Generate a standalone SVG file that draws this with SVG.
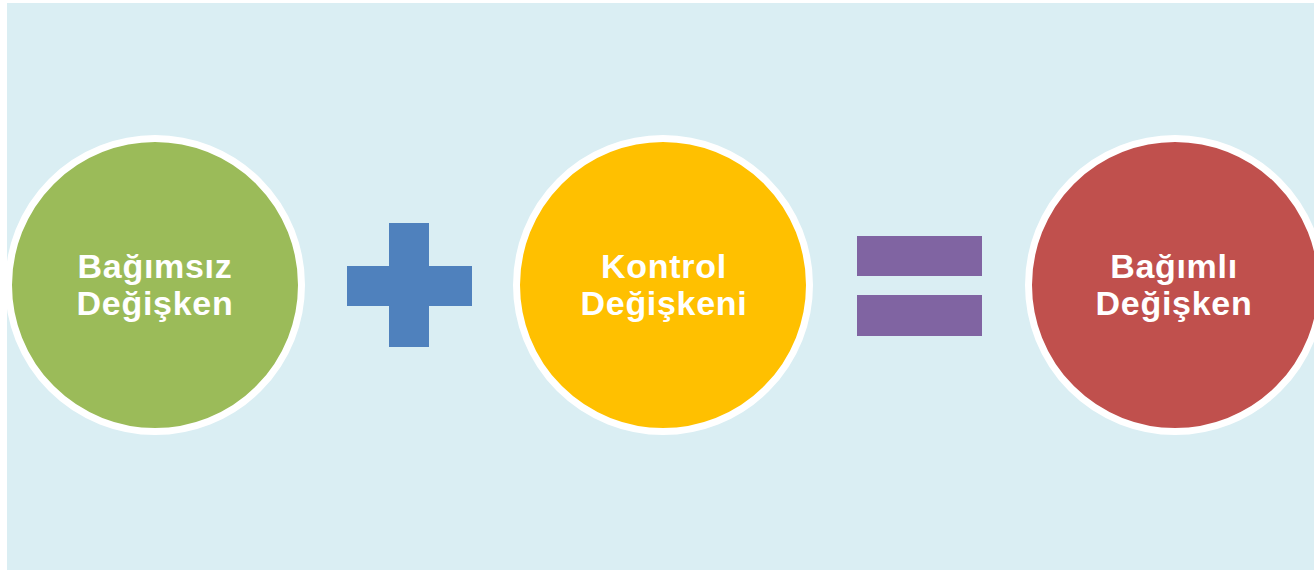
<svg xmlns="http://www.w3.org/2000/svg" width="1314" height="570" viewBox="0 0 1314 570">
<style>
.ring{stroke:#ffffff;stroke-width:7}
.lbl{font-family:"Liberation Sans",Arial,sans-serif;font-weight:bold;font-size:34px;fill:#ffffff;text-anchor:middle;letter-spacing:0.7px}
</style>
<rect x="0" y="0" width="1314" height="570" fill="#ffffff"/>
<rect x="7" y="3" width="1307" height="567" fill="#DAEEF3"/>
<g id="bagimsiz">
<circle class="ring" cx="155" cy="285" r="146.5" fill="#9BBB59"/>
<text class="lbl" x="155" y="278">Bağımsız</text>
<text class="lbl" x="155" y="315">Değişken</text>
</g>
<g id="plus">
<rect x="389" y="223" width="40" height="124" fill="#4F81BD"/>
<rect x="347" y="266" width="125" height="40" fill="#4F81BD"/>
</g>
<g id="kontrol">
<circle class="ring" cx="663" cy="285" r="146.5" fill="#FFC000"/>
<text class="lbl" x="664" y="278">Kontrol</text>
<text class="lbl" x="664" y="315">Değişkeni</text>
</g>
<g id="equals">
<rect x="857" y="236" width="125" height="40" fill="#8064A2"/>
<rect x="857" y="295" width="125" height="41" fill="#8064A2"/>
</g>
<g id="bagimli">
<circle class="ring" cx="1175" cy="285" r="146.5" fill="#C0504D"/>
<text class="lbl" x="1174" y="278">Bağımlı</text>
<text class="lbl" x="1174" y="315">Değişken</text>
</g>
<g id="connectors"></g>
</svg>
